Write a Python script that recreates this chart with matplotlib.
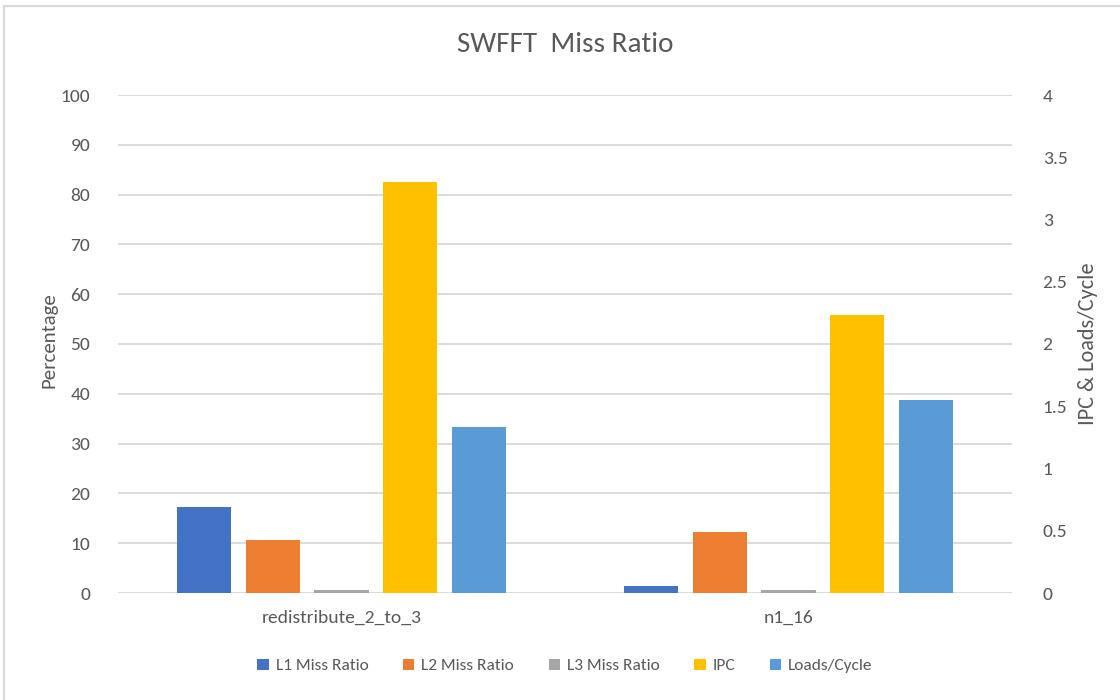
import matplotlib
matplotlib.use("Agg")
import matplotlib.pyplot as plt
import numpy as np
from matplotlib.patches import Patch
from matplotlib.lines import Line2D

plt.rcParams['font.family'] = ['Carlito', 'Lato', 'DejaVu Sans']

categories = ["redistribute_2_to_3", "n1_16"]
l1_miss = [17.2, 1.5]
l2_miss = [10.6, 12.2]
l3_miss = [0.7, 0.6]
ipc = [3.30, 2.23]
loads_per_cycle = [1.33, 1.55]

pct_ticks = list(range(0, 101, 10))
rate_ticks = [0, 0.5, 1, 1.5, 2, 2.5, 3, 3.5, 4]
rate_tick_labels = ["0", "0.5", "1", "1.5", "2", "2.5", "3", "3.5", "4"]

colors = {
    "L1 Miss Ratio": "#4472C4",
    "L2 Miss Ratio": "#ED7D31",
    "L3 Miss Ratio": "#A5A5A5",
    "IPC": "#FFC000",
    "Loads/Cycle": "#5B9BD5",
}
text_color = "#595959"
grid_color = "#D9D9D9"

fig = plt.figure(figsize=(11.2, 7), dpi=100)
ax = fig.add_axes([118 / 1120, 107 / 700, 894 / 1120, 498 / 700])
ax2 = ax.twinx()

x = np.arange(len(categories))
width = 0.121
step = 0.154
offsets = [-2 * step, -step, 0, step, 2 * step]

ax.set_zorder(2)
ax.patch.set_visible(False)
ax2.set_zorder(1)

left_series = [("L1 Miss Ratio", l1_miss), ("L2 Miss Ratio", l2_miss), ("L3 Miss Ratio", l3_miss)]
right_series = [("IPC", ipc), ("Loads/Cycle", loads_per_cycle)]

for i, (name, vals) in enumerate(left_series):
    ax.bar(x + offsets[i], vals, width, color=colors[name], edgecolor="none", zorder=3)
for j, (name, vals) in enumerate(right_series):
    ax2.bar(x + offsets[3 + j], vals, width, color=colors[name], edgecolor="none", zorder=3)

ax.set_xlim(-0.5, 1.5)
ax.set_ylim(0, 100)
ax2.set_ylim(0, 4)
ax.set_yticks(pct_ticks)
ax2.set_yticks(rate_ticks)
ax2.set_yticklabels(rate_tick_labels)

# gridlines drawn on the secondary (back) axes so bars sit over them
for t in pct_ticks:
    ax2.axhline(t / 25, color=grid_color, linewidth=1.3, zorder=0)

for a in (ax, ax2):
    for s in a.spines.values():
        s.set_visible(False)
    a.tick_params(length=0, colors=text_color, labelsize=14)

ax.tick_params(axis="y", pad=20)
ax2.tick_params(axis="y", pad=22)
ax.set_xticks(x)
ax.set_xticklabels(categories)
ax.tick_params(axis="x", pad=12, labelsize=14)

ax.set_ylabel("Percentage", color=text_color, fontsize=15, labelpad=0)
ax.yaxis.set_label_coords(-0.068, 0.508)
ax2.set_ylabel("IPC & Loads/Cycle", color=text_color, fontsize=16, labelpad=8)

fig.text(565 / 1120, 1 - 45 / 700, "SWFFT  Miss Ratio", ha="center", va="center",
         fontsize=21, color=text_color)

handles = [Patch(facecolor=colors[n], edgecolor="none") for n in colors]
fig.legend(handles, list(colors.keys()), loc="center", bbox_to_anchor=(565 / 1120, 1 - 666 / 700),
           ncol=5, frameon=False, fontsize=12.5, labelcolor=text_color,
           handlelength=0.65, handleheight=0.65, handletextpad=0.4, columnspacing=2.0)

# chart area border
fig.add_artist(Line2D([4 / 1120, 4 / 1120], [0, 1 - 6 / 700], transform=fig.transFigure,
                      color="#D9D9D9", linewidth=1.5))
fig.add_artist(Line2D([4 / 1120, 1], [1 - 6 / 700, 1 - 6 / 700], transform=fig.transFigure,
                      color="#D9D9D9", linewidth=1.5))

fig.savefig("out.png", dpi=100, facecolor="white")
